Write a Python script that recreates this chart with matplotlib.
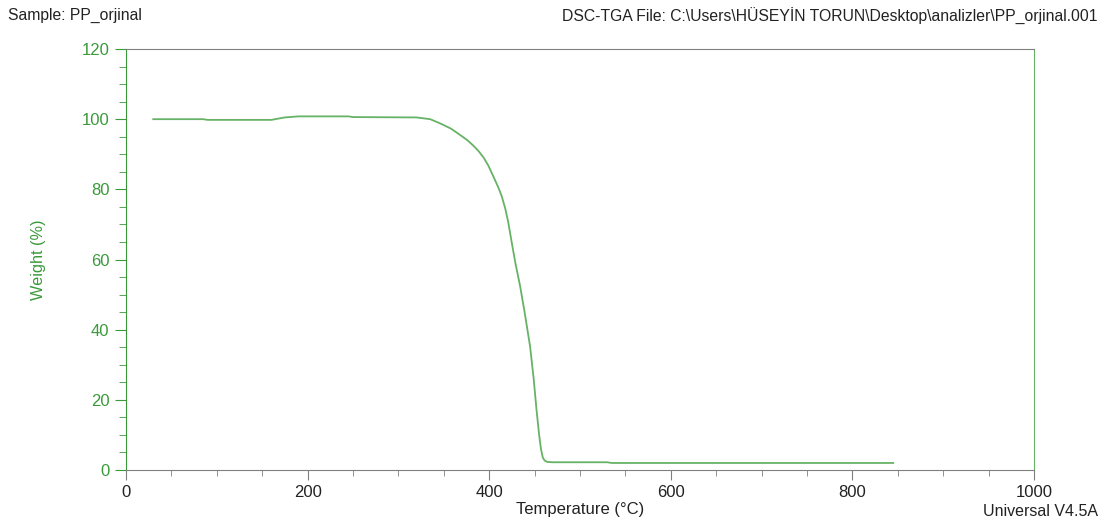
import matplotlib
matplotlib.use("Agg")
import matplotlib.pyplot as plt
from matplotlib.ticker import MultipleLocator

plt.rcParams['font.family'] = ['Liberation Sans', 'DejaVu Sans']

temperature = [30, 85, 90, 160, 175, 190, 245, 250, 320, 335, 346, 358, 368, 376,
               382, 388, 394, 399, 404, 410, 414, 418, 421, 425, 429, 434, 439,
               445, 449, 452, 455, 457, 459, 461, 464, 470, 530, 535, 845]
weight = [100.0, 100.0, 99.8, 99.8, 100.5, 100.8, 100.8, 100.6, 100.5, 100.0,
          98.8, 97.3, 95.5, 94.0, 92.6, 91.0, 89.0, 86.8, 84.0, 80.6, 77.9, 74.2,
          70.6, 64.6, 58.8, 52.5, 45.0, 35.3, 26.0, 17.5, 10.0, 6.0, 3.6, 2.7,
          2.3, 2.2, 2.2, 2.0, 2.0]

green = '#3a9a3a'
line_green = '#66b266'
gray = '#808080'
dark = '#222222'

fig = plt.figure(figsize=(11.16, 5.26), dpi=100)
ax = fig.add_axes([0.1129, 0.1065, 0.8136, 0.8003])
ax.plot(temperature, weight, color=line_green, lw=1.3)

ax.set_xlim(0, 1000)
ax.set_ylim(0, 120)
ax.xaxis.set_major_locator(MultipleLocator(200))
ax.xaxis.set_minor_locator(MultipleLocator(50))
ax.yaxis.set_major_locator(MultipleLocator(20))
ax.yaxis.set_minor_locator(MultipleLocator(5))

ax.spines['left'].set_color(green)
ax.spines['right'].set_color(line_green)
ax.spines['top'].set_color(gray)
ax.spines['bottom'].set_color(gray)

ax.tick_params(axis='y', which='major', direction='out', length=8, color=green,
               labelcolor=green, labelsize=12, pad=4)
ax.tick_params(axis='y', which='minor', direction='out', length=5, color=green)
ax.tick_params(axis='x', which='major', direction='out', length=7, color=gray,
               labelcolor=dark, labelsize=12, pad=4)
ax.tick_params(axis='x', which='minor', direction='out', length=4, color=gray)

ax.set_ylabel('Weight (%)', color=green, fontsize=11.7)
ax.yaxis.set_label_coords(-0.088, 0.5)
ax.set_xlabel('Temperature (°C)', color=dark, fontsize=12)
ax.xaxis.set_label_coords(0.5, -0.095)
ax.xaxis.label.set_va('center')

fig.text(8 / 1116, 0.985, 'Sample: PP_orjinal', fontsize=11.3, color=dark,
         ha='left', va='top')
fig.text(1098 / 1116, 0.985,
         'DSC-TGA File: C:\\Users\\HÜSEYİN TORUN\\Desktop\\analizler\\PP_orjinal.001',
         fontsize=11.3, color=dark, ha='right', va='top')
fig.text(1098 / 1116, 0.028, 'Universal V4.5A', fontsize=11.5, color=dark,
         ha='right', va='center')

fig.savefig('out.png', dpi=100)
